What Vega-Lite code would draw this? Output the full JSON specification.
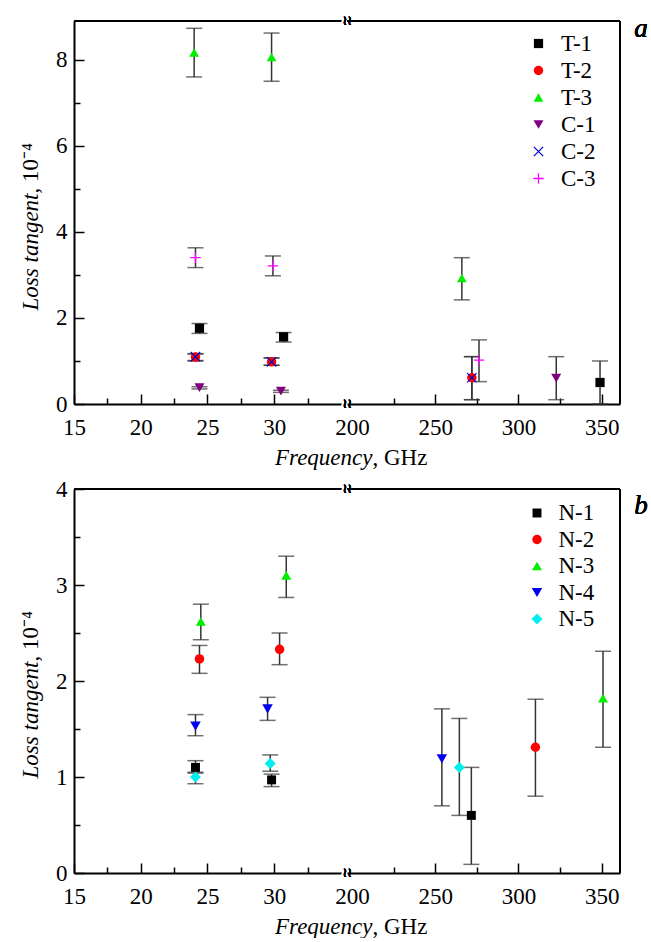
{
  "$schema": "https://vega.github.io/schema/vega-lite/v6.json",
  "padding": {"left": 19, "top": 14, "right": 0, "bottom": 0},
  "config": {
    "view": {"stroke": null},
    "font": "Liberation Serif, Times New Roman, serif",
    "text": {"font": "Liberation Serif, Times New Roman, serif"},
    "axis": {"domainColor": "#000", "domainWidth": 2, "tickColor": "#000", "tickWidth": 1.5, "labelFont": "Liberation Serif, Times New Roman, serif", "labelFontSize": 23, "labelColor": "#000", "titleFont": "Liberation Serif, Times New Roman, serif", "titleFontSize": 23, "titleColor": "#000", "titleFontWeight": "normal", "grid": false, "labelFlush": false, "labelOverlap": false},
    "legend": {"labelFont": "Liberation Serif, Times New Roman, serif", "labelFontSize": 23, "labelColor": "#000", "padding": 0, "rowPadding": 3, "symbolStrokeWidth": 0}
  },
  "datasets": {
    "a": [
      {"series": "T-1", "freq": 24.4, "tan": 1.76, "lo": 1.64, "hi": 1.87},
      {"series": "T-1", "freq": 30.7, "tan": 1.56, "lo": 1.44, "hi": 1.66},
      {"series": "T-1", "freq": 349, "tan": 0.5, "lo": 0.0, "hi": 1.0},
      {"series": "T-2", "freq": 24.1, "tan": 1.09, "lo": 1.0, "hi": 1.17},
      {"series": "T-2", "freq": 29.8, "tan": 0.98, "lo": 0.9, "hi": 1.07},
      {"series": "T-2", "freq": 272, "tan": 0.61, "lo": 0.1, "hi": 1.1},
      {"series": "T-3", "freq": 24.0, "tan": 8.17, "lo": 7.6, "hi": 8.73},
      {"series": "T-3", "freq": 29.8, "tan": 8.06, "lo": 7.5, "hi": 8.62},
      {"series": "T-3", "freq": 266, "tan": 2.93, "lo": 2.42, "hi": 3.4},
      {"series": "C-1", "freq": 24.4, "tan": 0.38, "lo": 0.35, "hi": 0.4},
      {"series": "C-1", "freq": 30.5, "tan": 0.3, "lo": 0.27, "hi": 0.32},
      {"series": "C-1", "freq": 322.7, "tan": 0.6, "lo": 0.1, "hi": 1.1},
      {"series": "C-2", "freq": 24.1, "tan": 1.1, "lo": 1.01, "hi": 1.16},
      {"series": "C-2", "freq": 29.8, "tan": 0.98, "lo": 0.9, "hi": 1.07},
      {"series": "C-2", "freq": 272, "tan": 0.61, "lo": 0.1, "hi": 1.1},
      {"series": "C-3", "freq": 24.1, "tan": 3.4, "lo": 3.17, "hi": 3.63},
      {"series": "C-3", "freq": 29.9, "tan": 3.21, "lo": 2.98, "hi": 3.44},
      {"series": "C-3", "freq": 276.3, "tan": 1.02, "lo": 0.52, "hi": 1.49}
    ],
    "b": [
      {"series": "N-1", "freq": 24.1, "tan": 1.1, "lo": 1.05, "hi": 1.17},
      {"series": "N-1", "freq": 29.8, "tan": 0.97, "lo": 0.9, "hi": 1.03},
      {"series": "N-1", "freq": 271.7, "tan": 0.6, "lo": 0.09, "hi": 1.1},
      {"series": "N-2", "freq": 24.4, "tan": 2.23, "lo": 2.08, "hi": 2.37},
      {"series": "N-2", "freq": 30.4, "tan": 2.33, "lo": 2.17, "hi": 2.5},
      {"series": "N-2", "freq": 310.2, "tan": 1.31, "lo": 0.8, "hi": 1.81},
      {"series": "N-3", "freq": 24.5, "tan": 2.62, "lo": 2.43, "hi": 2.8},
      {"series": "N-3", "freq": 30.9, "tan": 3.1, "lo": 2.87, "hi": 3.3},
      {"series": "N-3", "freq": 350.8, "tan": 1.82, "lo": 1.31, "hi": 2.31},
      {"series": "N-4", "freq": 24.1, "tan": 1.53, "lo": 1.43, "hi": 1.65},
      {"series": "N-4", "freq": 29.5, "tan": 1.71, "lo": 1.59, "hi": 1.83},
      {"series": "N-4", "freq": 254, "tan": 1.19, "lo": 0.7, "hi": 1.71},
      {"series": "N-5", "freq": 24.1, "tan": 1.0, "lo": 0.93, "hi": 1.04},
      {"series": "N-5", "freq": 29.7, "tan": 1.14, "lo": 1.06, "hi": 1.23},
      {"series": "N-5", "freq": 264.5, "tan": 1.1, "lo": 0.6, "hi": 1.61}
    ]
  },
  "vconcat": [
    {
      "hconcat": [
        {
          "width": 273, "height": 383,
          "data": {"name": "a"},
          "transform": [{"filter": "datum.freq < 100"}],
          "layer": [
            {
              "mark": {"type": "errorbar", "ticks": {"size": 16}, "thickness": 1.5, "color": "#333"},
              "encoding": {
                "x": {"field": "freq", "type": "quantitative", "scale": {"domain": [15, 35.45], "nice": false, "zero": false},
                  "axis": {"orient": "bottom", "values": [15, 20, 25, 30], "tickSize": -10, "labelPadding": 22, "title": "Frequency", "titleFontStyle": "italic", "titleAlign": "right", "titleX": 298, "titleY": 60, "titleBaseline": "alphabetic"}},
                "y": {"field": "lo", "type": "quantitative", "scale": {"domain": [0, 8.9], "nice": false},
                  "axis": {"orient": "left", "values": [0, 2, 4, 6, 8], "tickSize": -10, "labelPadding": 17, "title": "Loss tangent", "titleFontStyle": "italic", "titleAlign": "right", "titleBaseline": "bottom", "titleAngle": -90, "titleX": -32, "titleY": 172}},
                "y2": {"field": "hi"}
              }
            },
            {
              "mark": {"type": "point", "filled": true, "opacity": 1},
              "encoding": {
                "x": {"field": "freq", "type": "quantitative",
                  "axis": {"orient": "bottom", "values": [17.5, 22.5, 27.5, 32.5], "tickSize": -6, "labels": false, "domain": false, "title": null}},
                "y": {"field": "tan", "type": "quantitative",
                  "axis": {"orient": "left", "values": [1, 3, 5, 7], "tickSize": -6, "labels": false, "domain": false, "title": ", 10⁻⁴", "titleAlign": "left", "titleBaseline": "bottom", "titleAngle": -90, "titleX": -32, "titleY": 172}},
                "shape": {"field": "series", "type": "nominal", "scale": {"domain": ["T-1", "T-2", "T-3", "C-1", "C-2", "C-3"], "range": ["square", "circle", "triangle-up", "triangle-down", "M-1,-0.83L-0.83,-1L1,0.83L0.83,1Z M0.83,-1L1,-0.83L-0.83,1L-1,0.83Z", "M-1,-0.12L1,-0.12L1,0.12L-1,0.12Z M-0.12,-1L0.12,-1L0.12,1L-0.12,1Z"]}, "legend": null},
                "color": {"field": "series", "type": "nominal", "scale": {"domain": ["T-1", "T-2", "T-3", "C-1", "C-2", "C-3"], "range": ["#000000", "#ff0000", "#00ee00", "#800080", "#0000cc", "#ff00ff"]}, "legend": null},
                "size": {"field": "series", "type": "nominal", "scale": {"domain": ["T-1", "T-2", "T-3", "C-1", "C-2", "C-3"], "range": [85, 110, 170, 150, 140, 180]}, "legend": null}
              }
            },
            {"mark": {"type": "rule", "color": "#000", "strokeWidth": 2}, "encoding": {"y": {"datum": 8.9, "axis": null}}},
            {"mark": {"type": "text", "text": "≀≀", "font": "DejaVu Sans", "fontSize": 13, "align": "center", "baseline": "middle", "stroke": "#fff", "strokeWidth": 4, "fill": "#fff"}, "encoding": {"x": {"datum": 35.45, "axis": null}, "y": {"datum": 0, "axis": null}}},
            {"mark": {"type": "text", "text": "≀≀", "font": "DejaVu Sans", "fontSize": 13, "align": "center", "baseline": "middle", "color": "#000"}, "encoding": {"x": {"datum": 35.45, "axis": null}, "y": {"datum": 0, "axis": null}}},
            {"mark": {"type": "text", "text": "≀≀", "font": "DejaVu Sans", "fontSize": 13, "align": "center", "baseline": "middle", "stroke": "#fff", "strokeWidth": 4, "fill": "#fff"}, "encoding": {"x": {"datum": 35.45, "axis": null}, "y": {"datum": 8.9, "axis": null}}},
            {"mark": {"type": "text", "text": "≀≀", "font": "DejaVu Sans", "fontSize": 13, "align": "center", "baseline": "middle", "color": "#000"}, "encoding": {"x": {"datum": 35.45, "axis": null}, "y": {"datum": 8.9, "axis": null}}}
          ],
          "resolve": {"axis": {"x": "independent", "y": "independent"}}
        },
        {
          "width": 273, "height": 383,
          "data": {"name": "a"},
          "transform": [{"filter": "datum.freq > 100"}],
          "layer": [
            {
              "mark": {"type": "errorbar", "ticks": {"size": 16}, "thickness": 1.5, "color": "#333"},
              "encoding": {
                "x": {"field": "freq", "type": "quantitative", "scale": {"domain": [197, 361], "nice": false, "zero": false},
                  "axis": {"orient": "bottom", "values": [200, 250, 300, 350], "tickSize": -10, "tickOpacity": 0, "labelPadding": 22, "title": ", GHz", "titleAlign": "left", "titleX": 25, "titleY": 60, "titleBaseline": "alphabetic"}},
                "y": {"field": "lo", "type": "quantitative", "scale": {"domain": [0, 8.9], "nice": false}, "axis": null},
                "y2": {"field": "hi"}
              }
            },
            {
              "mark": {"type": "point", "filled": true, "opacity": 1},
              "encoding": {
                "x": {"field": "freq", "type": "quantitative",
                  "axis": {"orient": "bottom", "values": [250, 300, 350], "tickSize": -10, "labels": false, "domain": false, "title": null}},
                "y": {"field": "tan", "type": "quantitative", "axis": null},
                "shape": {"field": "series", "type": "nominal", "scale": {"domain": ["T-1", "T-2", "T-3", "C-1", "C-2", "C-3"], "range": ["square", "circle", "triangle-up", "triangle-down", "M-1,-0.83L-0.83,-1L1,0.83L0.83,1Z M0.83,-1L1,-0.83L-0.83,1L-1,0.83Z", "M-1,-0.12L1,-0.12L1,0.12L-1,0.12Z M-0.12,-1L0.12,-1L0.12,1L-0.12,1Z"]},
                  "legend": {"orient": "none", "legendX": 180, "legendY": 11, "title": null, "labelOffset": 11}},
                "color": {"field": "series", "type": "nominal", "scale": {"domain": ["T-1", "T-2", "T-3", "C-1", "C-2", "C-3"], "range": ["#000000", "#ff0000", "#00ee00", "#800080", "#0000cc", "#ff00ff"]},
                  "legend": {"orient": "none", "legendX": 180, "legendY": 11, "title": null, "labelOffset": 11}},
                "size": {"field": "series", "type": "nominal", "scale": {"domain": ["T-1", "T-2", "T-3", "C-1", "C-2", "C-3"], "range": [85, 110, 170, 150, 140, 180]},
                  "legend": {"orient": "none", "legendX": 180, "legendY": 11, "title": null, "labelOffset": 11}}
              }
            },
            {"mark": {"type": "rule", "color": "#000", "strokeWidth": 2}, "encoding": {"x": {"datum": 361, "axis": {"orient": "bottom", "values": [225, 275, 325], "tickSize": -6, "labels": false, "domain": false, "title": null}}}},
            {"mark": {"type": "rule", "color": "#000", "strokeWidth": 2}, "encoding": {"y": {"datum": 8.9, "axis": null}}},
            {"mark": {"type": "text", "text": "a", "fontSize": 27, "fontStyle": "italic", "align": "center", "baseline": "middle", "dx": 21, "color": "#000"}, "encoding": {"x": {"datum": 361, "axis": null}, "y": {"datum": 8.72, "axis": null}}}
          ],
          "resolve": {"axis": {"x": "independent", "y": "independent"}}
        }
      ],
      "spacing": 0,
      "bounds": "flush",
      "resolve": {"scale": {"color": "independent", "shape": "independent", "size": "independent", "y": "independent"}}
    },
    {
      "hconcat": [
        {
          "width": 273, "height": 384,
          "data": {"name": "b"},
          "transform": [{"filter": "datum.freq < 100"}],
          "layer": [
            {
              "mark": {"type": "errorbar", "ticks": {"size": 16}, "thickness": 1.5, "color": "#333"},
              "encoding": {
                "x": {"field": "freq", "type": "quantitative", "scale": {"domain": [15, 35.45], "nice": false, "zero": false},
                  "axis": {"orient": "bottom", "values": [15, 20, 25, 30], "tickSize": -10, "labelPadding": 22, "title": "Frequency", "titleFontStyle": "italic", "titleAlign": "right", "titleX": 298, "titleY": 60, "titleBaseline": "alphabetic"}},
                "y": {"field": "lo", "type": "quantitative", "scale": {"domain": [0, 4], "nice": false},
                  "axis": {"orient": "left", "values": [0, 1, 2, 3, 4], "tickSize": -10, "labelPadding": 17, "title": "Loss tangent", "titleFontStyle": "italic", "titleAlign": "right", "titleBaseline": "bottom", "titleAngle": -90, "titleX": -32, "titleY": 172}},
                "y2": {"field": "hi"}
              }
            },
            {
              "mark": {"type": "point", "filled": true, "opacity": 1},
              "encoding": {
                "x": {"field": "freq", "type": "quantitative",
                  "axis": {"orient": "bottom", "values": [17.5, 22.5, 27.5, 32.5], "tickSize": -6, "labels": false, "domain": false, "title": null}},
                "y": {"field": "tan", "type": "quantitative",
                  "axis": {"orient": "left", "values": [0.5, 1.5, 2.5, 3.5], "tickSize": -6, "labels": false, "domain": false, "title": ", 10⁻⁴", "titleAlign": "left", "titleBaseline": "bottom", "titleAngle": -90, "titleX": -32, "titleY": 172}},
                "shape": {"field": "series", "type": "nominal", "scale": {"domain": ["N-1", "N-2", "N-3", "N-4", "N-5"], "range": ["square", "circle", "triangle-up", "triangle-down", "diamond"]}, "legend": null},
                "color": {"field": "series", "type": "nominal", "scale": {"domain": ["N-1", "N-2", "N-3", "N-4", "N-5"], "range": ["#000000", "#ff0000", "#00ee00", "#0000ee", "#00eeee"]}, "legend": null},
                "size": {"field": "series", "type": "nominal", "scale": {"domain": ["N-1", "N-2", "N-3", "N-4", "N-5"], "range": [80, 120, 180, 170, 170]}, "legend": null}
              }
            },
            {"mark": {"type": "rule", "color": "#000", "strokeWidth": 2}, "encoding": {"y": {"datum": 4, "axis": null}}},
            {"mark": {"type": "text", "text": "≀≀", "font": "DejaVu Sans", "fontSize": 13, "align": "center", "baseline": "middle", "stroke": "#fff", "strokeWidth": 4, "fill": "#fff"}, "encoding": {"x": {"datum": 35.45, "axis": null}, "y": {"datum": 0, "axis": null}}},
            {"mark": {"type": "text", "text": "≀≀", "font": "DejaVu Sans", "fontSize": 13, "align": "center", "baseline": "middle", "color": "#000"}, "encoding": {"x": {"datum": 35.45, "axis": null}, "y": {"datum": 0, "axis": null}}},
            {"mark": {"type": "text", "text": "≀≀", "font": "DejaVu Sans", "fontSize": 13, "align": "center", "baseline": "middle", "stroke": "#fff", "strokeWidth": 4, "fill": "#fff"}, "encoding": {"x": {"datum": 35.45, "axis": null}, "y": {"datum": 4, "axis": null}}},
            {"mark": {"type": "text", "text": "≀≀", "font": "DejaVu Sans", "fontSize": 13, "align": "center", "baseline": "middle", "color": "#000"}, "encoding": {"x": {"datum": 35.45, "axis": null}, "y": {"datum": 4, "axis": null}}}
          ],
          "resolve": {"axis": {"x": "independent", "y": "independent"}}
        },
        {
          "width": 273, "height": 384,
          "data": {"name": "b"},
          "transform": [{"filter": "datum.freq > 100"}],
          "layer": [
            {
              "mark": {"type": "errorbar", "ticks": {"size": 16}, "thickness": 1.5, "color": "#333"},
              "encoding": {
                "x": {"field": "freq", "type": "quantitative", "scale": {"domain": [197, 361], "nice": false, "zero": false},
                  "axis": {"orient": "bottom", "values": [200, 250, 300, 350], "tickSize": -10, "tickOpacity": 0, "labelPadding": 22, "title": ", GHz", "titleAlign": "left", "titleX": 25, "titleY": 60, "titleBaseline": "alphabetic"}},
                "y": {"field": "lo", "type": "quantitative", "scale": {"domain": [0, 4], "nice": false}, "axis": null},
                "y2": {"field": "hi"}
              }
            },
            {
              "mark": {"type": "point", "filled": true, "opacity": 1},
              "encoding": {
                "x": {"field": "freq", "type": "quantitative",
                  "axis": {"orient": "bottom", "values": [250, 300, 350], "tickSize": -10, "labels": false, "domain": false, "title": null}},
                "y": {"field": "tan", "type": "quantitative", "axis": null},
                "shape": {"field": "series", "type": "nominal", "scale": {"domain": ["N-1", "N-2", "N-3", "N-4", "N-5"], "range": ["square", "circle", "triangle-up", "triangle-down", "diamond"]},
                  "legend": {"orient": "none", "legendX": 178.5, "legendY": 12.5, "title": null, "labelOffset": 10, "rowPadding": 2.5}},
                "color": {"field": "series", "type": "nominal", "scale": {"domain": ["N-1", "N-2", "N-3", "N-4", "N-5"], "range": ["#000000", "#ff0000", "#00ee00", "#0000ee", "#00eeee"]},
                  "legend": {"orient": "none", "legendX": 178.5, "legendY": 12.5, "title": null, "labelOffset": 10, "rowPadding": 2.5}},
                "size": {"field": "series", "type": "nominal", "scale": {"domain": ["N-1", "N-2", "N-3", "N-4", "N-5"], "range": [80, 120, 180, 170, 170]},
                  "legend": {"orient": "none", "legendX": 178.5, "legendY": 12.5, "title": null, "labelOffset": 10, "rowPadding": 2.5}}
              }
            },
            {"mark": {"type": "rule", "color": "#000", "strokeWidth": 2}, "encoding": {"x": {"datum": 361, "axis": {"orient": "bottom", "values": [225, 275, 325], "tickSize": -6, "labels": false, "domain": false, "title": null}}}},
            {"mark": {"type": "rule", "color": "#000", "strokeWidth": 2}, "encoding": {"y": {"datum": 4, "axis": null}}},
            {"mark": {"type": "text", "text": "b", "fontSize": 27, "fontStyle": "italic", "align": "center", "baseline": "middle", "dx": 21, "color": "#000"}, "encoding": {"x": {"datum": 361, "axis": null}, "y": {"datum": 3.82, "axis": null}}}
          ],
          "resolve": {"axis": {"x": "independent", "y": "independent"}}
        }
      ],
      "spacing": 0,
      "bounds": "flush",
      "resolve": {"scale": {"color": "independent", "shape": "independent", "size": "independent", "y": "independent"}}
    }
  ],
  "spacing": 9,
  "resolve": {"scale": {"color": "independent", "shape": "independent", "size": "independent"}}
}
